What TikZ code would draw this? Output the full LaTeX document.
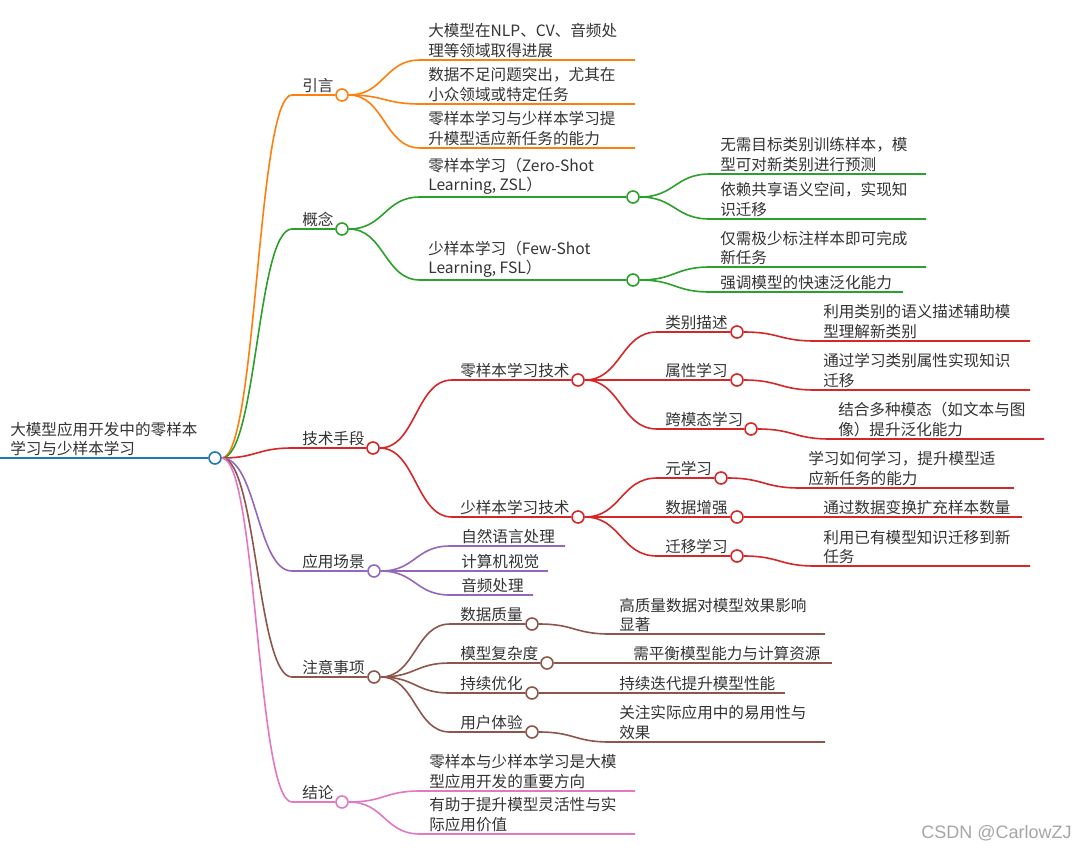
\documentclass[tikz,border=0pt]{standalone}
\usepackage{fontspec}
\setmainfont{Noto Sans CJK SC}
\newfontfamily\wmfont{Liberation Sans}
\usetikzlibrary{calc}
\definecolor{cRoot}{HTML}{1F77B4}
\definecolor{cIntro}{HTML}{FF7F0E}
\definecolor{cConcept}{HTML}{2CA02C}
\definecolor{cTech}{HTML}{D62728}
\definecolor{cApp}{HTML}{9467BD}
\definecolor{cNote}{HTML}{8C564B}
\definecolor{cConcl}{HTML}{E377C2}
% curve from a parent circle to the start of a child's underline, then along it
\newcommand\twig[4]{\draw[wire,#1] let \p1=(#2.east), \p2=(#3) in
  (\p1) .. controls ({(\x1+\x2)/2},\y1) and ({(\x1+\x2)/2},\y2) .. (\p2) -- (#4);}
\begin{document}
\begin{tikzpicture}[x=0.75pt,y=-0.75pt,
  wire/.style={line width=1.2pt},
  topic/.style={circle,draw,fill=white,line width=1.2pt,minimum size=9pt,
    inner sep=0pt},
  txt/.style={anchor=south west,inner sep=0pt,align=left,text=black!80,
    font=\fontsize{11.7pt}{14.6pt}\selectfont}]
\useasboundingbox[fill=white] (0,0) rectangle (1080,850);
% root
\coordinate (root-s) at (0,458);
\node[topic,draw=cRoot] (root) at (215,458) {};
\node[txt] (root-t) at (10,456) {大模型应用开发中的零样本\\学习与少样本学习};
\draw[wire,cRoot] (root-s) -- (root);
% main branches
\coordinate (intro-s) at (292,95);
\node[topic,draw=cIntro] (intro) at (342,95) {};
\node[txt] (intro-t) at (302,93) {引言};
\twig{cIntro}{root}{intro-s}{intro}
\coordinate (concept-s) at (292,229);
\node[topic,draw=cConcept] (concept) at (342,229) {};
\node[txt] (concept-t) at (302,227) {概念};
\twig{cConcept}{root}{concept-s}{concept}
\coordinate (tech-s) at (292,448);
\node[topic,draw=cTech] (tech) at (373,448) {};
\node[txt] (tech-t) at (302,446) {技术手段};
\twig{cTech}{root}{tech-s}{tech}
\coordinate (app-s) at (292,571);
\node[topic,draw=cApp] (app) at (374,571) {};
\node[txt] (app-t) at (302,569) {应用场景};
\twig{cApp}{root}{app-s}{app}
\coordinate (note-s) at (292,677);
\node[topic,draw=cNote] (note) at (374,677) {};
\node[txt] (note-t) at (302,675) {注意事项};
\twig{cNote}{root}{note-s}{note}
\coordinate (concl-s) at (292,802);
\node[topic,draw=cConcl] (concl) at (342,802) {};
\node[txt] (concl-t) at (302,800) {结论};
\twig{cConcl}{root}{concl-s}{concl}
% 引言
\coordinate (in1-s) at (420,60); \coordinate (in1-e) at (635,60);
\node[txt] (in1-t) at (428,58) {大模型在NLP、CV、音频处\\理等领域取得进展};
\twig{cIntro}{intro}{in1-s}{in1-e}
\coordinate (in2-s) at (420,104); \coordinate (in2-e) at (635,104);
\node[txt] (in2-t) at (428,102) {数据不足问题突出，尤其在\\小众领域或特定任务};
\twig{cIntro}{intro}{in2-s}{in2-e}
\coordinate (in3-s) at (420,148); \coordinate (in3-e) at (635,148);
\node[txt] (in3-t) at (428,146) {零样本学习与少样本学习提\\升模型适应新任务的能力};
\twig{cIntro}{intro}{in3-s}{in3-e}
% 概念
\coordinate (zsl-s) at (420,197);
\node[topic,draw=cConcept] (zsl) at (633,197) {};
\node[txt] (zsl-t) at (428,195) {零样本学习（Zero-Shot\\Learning, ZSL）};
\twig{cConcept}{concept}{zsl-s}{zsl}
\coordinate (fsl-s) at (420,280);
\node[topic,draw=cConcept] (fsl) at (633,280) {};
\node[txt] (fsl-t) at (428,278) {少样本学习（Few-Shot\\Learning, FSL）};
\twig{cConcept}{concept}{fsl-s}{fsl}
\coordinate (zs1-s) at (710,174); \coordinate (zs1-e) at (926,174);
\node[txt] (zs1-t) at (720,172) {无需目标类别训练样本，模\\型可对新类别进行预测};
\twig{cConcept}{zsl}{zs1-s}{zs1-e}
\coordinate (zs2-s) at (710,219); \coordinate (zs2-e) at (926,219);
\node[txt] (zs2-t) at (720,217) {依赖共享语义空间，实现知\\识迁移};
\twig{cConcept}{zsl}{zs2-s}{zs2-e}
\coordinate (fs1-s) at (710,267); \coordinate (fs1-e) at (926,267);
\node[txt] (fs1-t) at (720,265) {仅需极少标注样本即可完成\\新任务};
\twig{cConcept}{fsl}{fs1-s}{fs1-e}
\coordinate (fs2-s) at (710,292); \coordinate (fs2-e) at (903,292);
\node[txt] (fs2-t) at (720,290) {强调模型的快速泛化能力};
\twig{cConcept}{fsl}{fs2-s}{fs2-e}
% 技术手段
\coordinate (zst-s) at (452,380);
\node[topic,draw=cTech] (zst) at (578,380) {};
\node[txt] (zst-t) at (460,378) {零样本学习技术};
\twig{cTech}{tech}{zst-s}{zst}
\coordinate (fst-s) at (452,517);
\node[topic,draw=cTech] (fst) at (578,517) {};
\node[txt] (fst-t) at (460,515) {少样本学习技术};
\twig{cTech}{tech}{fst-s}{fst}
\coordinate (desc-s) at (657,332);
\node[topic,draw=cTech] (desc) at (737,332) {};
\node[txt] (desc-t) at (665,330) {类别描述};
\twig{cTech}{zst}{desc-s}{desc}
\coordinate (attr-s) at (657,380);
\node[topic,draw=cTech] (attr) at (737,380) {};
\node[txt] (attr-t) at (665,378) {属性学习};
\twig{cTech}{zst}{attr-s}{attr}
\coordinate (cross-s) at (657,429);
\node[topic,draw=cTech] (cross) at (751,429) {};
\node[txt] (cross-t) at (665,427) {跨模态学习};
\twig{cTech}{zst}{cross-s}{cross}
\coordinate (meta-s) at (657,478);
\node[topic,draw=cTech] (meta) at (721,478) {};
\node[txt] (meta-t) at (665,476) {元学习};
\twig{cTech}{fst}{meta-s}{meta}
\coordinate (aug-s) at (657,517);
\node[topic,draw=cTech] (aug) at (737,517) {};
\node[txt] (aug-t) at (665,515) {数据增强};
\twig{cTech}{fst}{aug-s}{aug}
\coordinate (trans-s) at (657,556);
\node[topic,draw=cTech] (trans) at (737,556) {};
\node[txt] (trans-t) at (665,554) {迁移学习};
\twig{cTech}{fst}{trans-s}{trans}
\coordinate (desc1-s) at (815,341); \coordinate (desc1-e) at (1030,341);
\node[txt] (desc1-t) at (823,339) {利用类别的语义描述辅助模\\型理解新类别};
\twig{cTech}{desc}{desc1-s}{desc1-e}
\coordinate (attr1-s) at (815,390); \coordinate (attr1-e) at (1030,390);
\node[txt] (attr1-t) at (823,388) {通过学习类别属性实现知识\\迁移};
\twig{cTech}{attr}{attr1-s}{attr1-e}
\coordinate (cross1-s) at (830,439); \coordinate (cross1-e) at (1044,439);
\node[txt] (cross1-t) at (838,437) {结合多种模态（如文本与图\\像）提升泛化能力};
\twig{cTech}{cross}{cross1-s}{cross1-e}
\coordinate (meta1-s) at (800,488); \coordinate (meta1-e) at (1014,488);
\node[txt] (meta1-t) at (808,486) {学习如何学习，提升模型适\\应新任务的能力};
\twig{cTech}{meta}{meta1-s}{meta1-e}
\coordinate (aug1-s) at (815,517); \coordinate (aug1-e) at (1022,517);
\node[txt] (aug1-t) at (823,515) {通过数据变换扩充样本数量};
\twig{cTech}{aug}{aug1-s}{aug1-e}
\coordinate (trans1-s) at (815,566); \coordinate (trans1-e) at (1030,566);
\node[txt] (trans1-t) at (823,564) {利用已有模型知识迁移到新\\任务};
\twig{cTech}{trans}{trans1-s}{trans1-e}
% 应用场景
\coordinate (ap1-s) at (450,546); \coordinate (ap1-e) at (565,546);
\node[txt] (ap1-t) at (461,544) {自然语言处理};
\twig{cApp}{app}{ap1-s}{ap1-e}
\coordinate (ap2-s) at (450,571); \coordinate (ap2-e) at (548,571);
\node[txt] (ap2-t) at (461,569) {计算机视觉};
\twig{cApp}{app}{ap2-s}{ap2-e}
\coordinate (ap3-s) at (450,595); \coordinate (ap3-e) at (533,595);
\node[txt] (ap3-t) at (461,593) {音频处理};
\twig{cApp}{app}{ap3-s}{ap3-e}
% 注意事项
\coordinate (qual-s) at (450,624);
\node[topic,draw=cNote] (qual) at (532,624) {};
\node[txt] (qual-t) at (460,622) {数据质量};
\twig{cNote}{note}{qual-s}{qual}
\coordinate (cplx-s) at (450,663);
\node[topic,draw=cNote] (cplx) at (547,663) {};
\node[txt] (cplx-t) at (460,661) {模型复杂度};
\twig{cNote}{note}{cplx-s}{cplx}
\coordinate (opt-s) at (450,693);
\node[topic,draw=cNote] (opt) at (532,693) {};
\node[txt] (opt-t) at (460,691) {持续优化};
\twig{cNote}{note}{opt-s}{opt}
\coordinate (ux-s) at (450,732);
\node[topic,draw=cNote] (ux) at (532,732) {};
\node[txt] (ux-t) at (460,730) {用户体验};
\twig{cNote}{note}{ux-s}{ux}
\coordinate (qual1-s) at (610,634); \coordinate (qual1-e) at (825,634);
\node[txt] (qual1-t) at (619,632) {高质量数据对模型效果影响\\显著};
\twig{cNote}{qual}{qual1-s}{qual1-e}
\coordinate (cplx1-s) at (625,663); \coordinate (cplx1-e) at (832,663);
\node[txt] (cplx1-t) at (633,661) {需平衡模型能力与计算资源};
\twig{cNote}{cplx}{cplx1-s}{cplx1-e}
\coordinate (opt1-s) at (610,693); \coordinate (opt1-e) at (785,693);
\node[txt] (opt1-t) at (619,691) {持续迭代提升模型性能};
\twig{cNote}{opt}{opt1-s}{opt1-e}
\coordinate (ux1-s) at (610,742); \coordinate (ux1-e) at (825,742);
\node[txt] (ux1-t) at (619,740) {关注实际应用中的易用性与\\效果};
\twig{cNote}{ux}{ux1-s}{ux1-e}
% 结论
\coordinate (co1-s) at (420,791); \coordinate (co1-e) at (635,791);
\node[txt] (co1-t) at (429,789) {零样本与少样本学习是大模\\型应用开发的重要方向};
\twig{cConcl}{concl}{co1-s}{co1-e}
\coordinate (co2-s) at (420,834); \coordinate (co2-e) at (635,834);
\node[txt] (co2-t) at (429,832) {有助于提升模型灵活性与实\\际应用价值};
\twig{cConcl}{concl}{co2-s}{co2-e}
% watermark
\node[anchor=west,inner sep=0pt,text=black!35,
  font=\wmfont\fontsize{13.5pt}{16pt}\selectfont] (mark) at (921,833)
  {CSDN @CarlowZJ};
\end{tikzpicture}
\end{document}
